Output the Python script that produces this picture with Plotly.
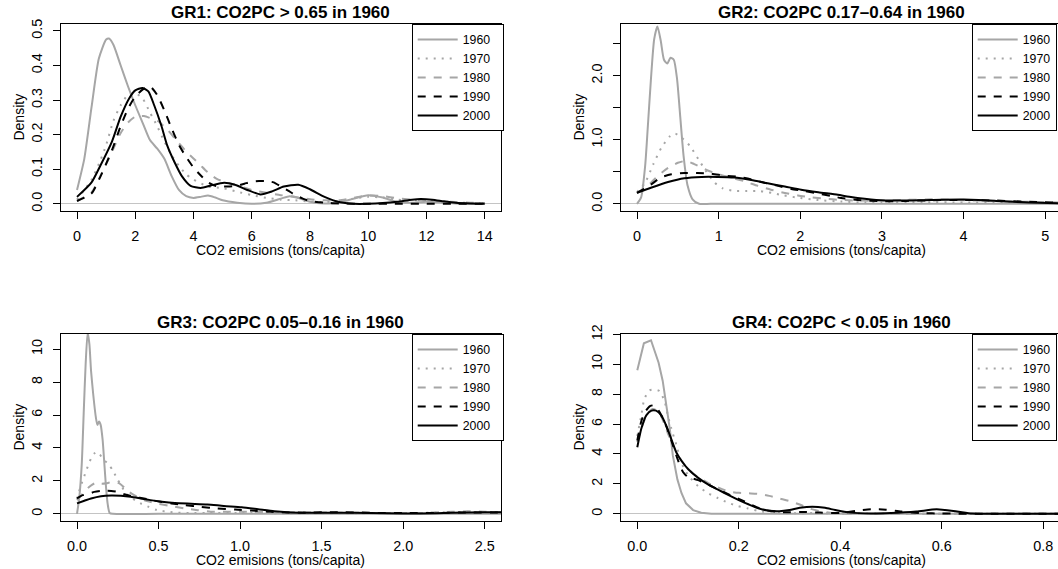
import plotly.graph_objects as go

# ---------------- data ----------------
years = ["1960", "1970", "1980", "1990", "2000"]

# GR1
gr1_x_1960 = [0, 0.25, 0.5, 0.75, 1.0, 1.1, 1.25, 1.5, 1.75, 2.0, 2.25, 2.5, 2.75, 3.0, 3.25, 3.5, 3.75, 4.0, 4.25, 4.5, 4.75, 5.0, 5.5, 6.0, 6.5, 7.0, 7.3, 7.6, 8.0, 8.5, 9.0, 9.5, 10.0, 10.5, 11.0, 11.5, 12.0, 12.5, 13.0, 13.5, 14.0]
gr1_y_1960 = [0.04, 0.13, 0.28, 0.42, 0.475, 0.478, 0.46, 0.40, 0.34, 0.285, 0.235, 0.185, 0.16, 0.13, 0.08, 0.04, 0.022, 0.017, 0.02, 0.024, 0.018, 0.01, 0.003, 0.0, 0.003, 0.015, 0.022, 0.017, 0.006, 0.001, 0.003, 0.015, 0.025, 0.018, 0.005, 0.003, 0.006, 0.004, 0.001, 0.0, 0.0]
gr1_x_1970 = [0, 0.5, 0.8, 1.0, 1.25, 1.5, 1.75, 2.0, 2.25, 2.5, 2.75, 3.0, 3.25, 3.5, 3.75, 4.0, 4.5, 5.0, 5.5, 6.0, 6.5, 7.0, 7.5, 8.0, 8.5, 9.0, 9.5, 10.0, 10.5, 11.0, 11.5, 12.0, 12.5, 13.0, 13.5, 14.0]
gr1_y_1970 = [0.012, 0.07, 0.125, 0.17, 0.24, 0.285, 0.315, 0.32, 0.305, 0.265, 0.225, 0.18, 0.14, 0.11, 0.085, 0.07, 0.05, 0.045, 0.035, 0.025, 0.017, 0.012, 0.01, 0.006, 0.005, 0.008, 0.015, 0.02, 0.018, 0.012, 0.01, 0.01, 0.007, 0.004, 0.002, 0.001]
gr1_x_1980 = [0, 0.5, 0.8, 1.2, 1.5, 1.75, 2.0, 2.3, 2.6, 2.8, 3.1, 3.5, 3.8, 4.2, 4.5, 4.8, 5.2, 5.6, 6.0, 6.5, 7.0, 7.5, 8.0, 8.5, 9.0, 9.5, 10.0, 10.5, 11.0, 11.5, 12.0, 12.5, 13.0, 13.5, 14.0]
gr1_y_1980 = [0.008, 0.033, 0.08, 0.15, 0.205, 0.235, 0.252, 0.254, 0.245, 0.238, 0.215, 0.175, 0.147, 0.115, 0.09, 0.072, 0.06, 0.05, 0.04, 0.032, 0.025, 0.02, 0.013, 0.01, 0.01, 0.017, 0.024, 0.022, 0.016, 0.012, 0.01, 0.008, 0.005, 0.003, 0.002]
gr1_x_1990 = [0, 0.5, 0.8, 1.2, 1.5, 1.75, 2.0, 2.25, 2.5, 2.75, 3.0, 3.25, 3.5, 3.75, 4.0, 4.25, 4.5, 4.75, 5.0, 5.25, 5.5, 5.75, 6.0, 6.25, 6.5, 6.75, 7.0, 7.25, 7.5, 7.75, 8.0, 8.5, 9.0, 10.0, 11.0, 12.0, 13.0, 14.0]
gr1_y_1990 = [0.008, 0.03, 0.078, 0.155, 0.225, 0.275, 0.31, 0.33, 0.34, 0.315, 0.27, 0.218, 0.17, 0.135, 0.105, 0.082, 0.062, 0.052, 0.05, 0.05, 0.052, 0.058, 0.064, 0.066, 0.066, 0.062, 0.05, 0.038, 0.025, 0.015, 0.008, 0.003, 0.001, 0.0, 0.0, 0.0, 0.0, 0.0]
gr1_x_2000 = [0, 0.5, 0.8, 1.2, 1.5, 1.8, 2.0, 2.25, 2.45, 2.65, 2.9, 3.1, 3.35, 3.6, 3.9, 4.25, 4.6, 5.05, 5.4, 5.85, 6.3, 6.7, 7.1, 7.6, 8.0, 8.5, 9.0, 9.5, 10.0, 10.5, 11.0, 11.5, 11.8, 12.2, 12.6, 13.0, 13.5, 14.0]
gr1_y_2000 = [0.02, 0.062, 0.11, 0.18, 0.252, 0.306, 0.328, 0.335, 0.325, 0.285, 0.225, 0.168, 0.12, 0.08, 0.052, 0.046, 0.053, 0.061, 0.056, 0.04, 0.027, 0.036, 0.05, 0.055, 0.042, 0.02, 0.005, 0.0, 0.0, 0.002, 0.006, 0.012, 0.014, 0.012, 0.007, 0.003, 0.001, 0.0]

# GR2
gr2_x_1960 = [0, 0.05, 0.1, 0.13, 0.17, 0.21, 0.25, 0.29, 0.33, 0.37, 0.41, 0.45, 0.49, 0.53, 0.57, 0.62, 0.68, 0.76, 0.9, 1.5, 2.5, 3.5, 4.5, 5.2]
gr2_y_1960 = [0.0, 0.1, 0.6, 1.16, 1.94, 2.57, 2.77, 2.55, 2.25, 2.19, 2.28, 2.25, 1.95, 1.35, 0.75, 0.28, 0.07, 0.0, 0.0, 0.0, 0.0, 0.0, 0.0, 0.0]
gr2_x_1970 = [0, 0.1, 0.2, 0.3, 0.4, 0.46, 0.55, 0.65, 0.75, 0.85, 0.95, 1.05, 1.2, 1.35, 1.5, 1.65, 1.8, 2.0, 2.2, 2.5, 2.8, 3.0, 3.5, 4.0, 4.5, 5.0, 5.2]
gr2_y_1970 = [0.18, 0.33, 0.62, 0.88, 1.05, 1.1, 1.03, 0.9, 0.7, 0.5, 0.33, 0.24, 0.2, 0.2, 0.2, 0.17, 0.13, 0.09, 0.06, 0.035, 0.02, 0.02, 0.025, 0.02, 0.015, 0.01, 0.008]
gr2_x_1980 = [0, 0.13, 0.25, 0.38, 0.5, 0.6, 0.7, 0.83, 1.0, 1.15, 1.32, 1.48, 1.64, 1.81, 1.97, 2.13, 2.3, 2.5, 2.7, 3.0, 3.3, 3.6, 3.9, 4.2, 4.5, 4.8, 5.2]
gr2_y_1980 = [0.17, 0.28, 0.43, 0.56, 0.64, 0.67, 0.62, 0.54, 0.46, 0.41, 0.35, 0.28, 0.22, 0.17, 0.13, 0.1, 0.08, 0.06, 0.05, 0.05, 0.06, 0.07, 0.06, 0.05, 0.04, 0.03, 0.02]
gr2_x_1990 = [0, 0.17, 0.29, 0.42, 0.58, 0.74, 0.91, 1.07, 1.24, 1.4, 1.56, 1.73, 1.89, 2.05, 2.22, 2.38, 2.5, 2.7, 3.0, 3.3, 3.6, 4.0, 4.4, 4.8, 5.2]
gr2_y_1990 = [0.17, 0.3, 0.41, 0.46, 0.48, 0.48, 0.47, 0.44, 0.42, 0.38, 0.33, 0.28, 0.23, 0.2, 0.16, 0.12, 0.09, 0.06, 0.04, 0.045, 0.055, 0.06, 0.05, 0.03, 0.015]
gr2_x_2000 = [0, 0.17, 0.38, 0.58, 0.79, 0.99, 1.19, 1.4, 1.6, 1.81, 2.01, 2.22, 2.46, 2.6, 2.93, 3.2, 3.6, 4.0, 4.4, 4.8, 5.2]
gr2_y_2000 = [0.17, 0.25, 0.34, 0.4, 0.42, 0.42, 0.41, 0.37, 0.32, 0.27, 0.22, 0.18, 0.14, 0.11, 0.06, 0.05, 0.06, 0.065, 0.045, 0.02, 0.005]

# GR3
gr3_x_1960 = [0, 0.014, 0.029, 0.041, 0.053, 0.065, 0.076, 0.086, 0.1, 0.115, 0.125, 0.135, 0.145, 0.157, 0.168, 0.178, 0.188, 0.2, 0.22, 0.5, 1.0, 1.5, 2.0, 2.7]
gr3_y_1960 = [0.0, 1.0, 3.0, 6.1, 9.1, 11.0, 10.3, 8.7, 7.2, 5.9, 5.4, 5.6, 5.4, 4.5, 3.0, 1.6, 0.6, 0.05, 0.0, 0.0, 0.0, 0.0, 0.0, 0.0]
gr3_x_1970 = [0, 0.02, 0.045, 0.065, 0.086, 0.105, 0.12, 0.14, 0.157, 0.188, 0.219, 0.245, 0.27, 0.3, 0.34, 0.39, 0.44, 0.49, 0.56, 0.62, 0.7, 0.8, 1.0, 1.2, 1.5, 1.8, 2.1, 2.3, 2.4, 2.5, 2.7]
gr3_y_1970 = [0.9, 1.6, 2.3, 2.85, 3.35, 3.65, 3.75, 3.6, 3.35, 3.05, 2.65, 2.14, 1.74, 1.23, 0.93, 0.63, 0.42, 0.22, 0.12, 0.07, 0.05, 0.05, 0.05, 0.04, 0.03, 0.03, 0.05, 0.1, 0.12, 0.1, 0.06]
gr3_x_1980 = [0, 0.045, 0.076, 0.106, 0.127, 0.15, 0.18, 0.22, 0.26, 0.29, 0.32, 0.35, 0.41, 0.47, 0.56, 0.66, 0.74, 0.82, 0.9, 1.0, 1.2, 1.5, 1.8, 2.1, 2.3, 2.4, 2.5, 2.7]
gr3_y_1980 = [0.83, 1.33, 1.64, 1.84, 1.9, 1.82, 1.85, 1.95, 1.85, 1.6, 1.33, 1.13, 0.83, 0.67, 0.5, 0.32, 0.22, 0.13, 0.12, 0.12, 0.1, 0.08, 0.05, 0.05, 0.12, 0.15, 0.12, 0.08]
gr3_x_1990 = [0, 0.035, 0.076, 0.106, 0.147, 0.21, 0.25, 0.29, 0.35, 0.41, 0.49, 0.58, 0.66, 0.76, 0.86, 0.97, 1.07, 1.19, 1.29, 1.4, 1.6, 1.8, 2.0, 2.2, 2.4, 2.6, 2.7]
gr3_y_1990 = [0.93, 1.13, 1.23, 1.33, 1.39, 1.39, 1.33, 1.19, 1.03, 0.93, 0.77, 0.63, 0.53, 0.42, 0.32, 0.26, 0.2, 0.12, 0.08, 0.07, 0.1, 0.06, 0.04, 0.05, 0.08, 0.08, 0.07]
gr3_x_2000 = [0, 0.045, 0.086, 0.147, 0.21, 0.27, 0.33, 0.39, 0.45, 0.52, 0.6, 0.7, 0.8, 0.9, 1.01, 1.11, 1.21, 1.29, 1.4, 1.6, 1.8, 2.0, 2.1, 2.3, 2.5, 2.7]
gr3_y_2000 = [0.63, 0.79, 0.93, 1.07, 1.11, 1.09, 1.03, 0.93, 0.83, 0.73, 0.65, 0.61, 0.57, 0.48, 0.4, 0.28, 0.16, 0.1, 0.07, 0.06, 0.05, 0.02, 0.02, 0.06, 0.1, 0.09]

# GR4
gr4_x_1960 = [0, 0.013, 0.027, 0.042, 0.05, 0.057, 0.064, 0.07, 0.079, 0.087, 0.096, 0.11, 0.126, 0.146, 0.2, 0.4, 0.6, 0.84]
gr4_y_1960 = [9.6, 11.4, 11.6, 10.1, 8.9, 7.3, 5.7, 3.9, 2.3, 1.39, 0.7, 0.25, 0.07, 0.0, 0.0, 0.0, 0.0, 0.0]
gr4_x_1970 = [0, 0.008, 0.014, 0.024, 0.034, 0.044, 0.054, 0.06, 0.067, 0.077, 0.087, 0.1, 0.12, 0.139, 0.159, 0.178, 0.198, 0.218, 0.237, 0.264, 0.3, 0.35, 0.4, 0.5, 0.6, 0.84]
gr4_y_1970 = [5.2, 6.6, 7.7, 8.25, 8.3, 8.2, 7.5, 6.6, 5.7, 4.6, 3.4, 2.6, 1.84, 1.39, 1.05, 0.75, 0.52, 0.36, 0.2, 0.07, 0.03, 0.05, 0.03, 0.01, 0.0, 0.0]
gr4_x_1980 = [0, 0.01, 0.02, 0.03, 0.04, 0.05, 0.06, 0.07, 0.08, 0.1, 0.12, 0.14, 0.16, 0.18, 0.2, 0.22, 0.24, 0.26, 0.28, 0.3, 0.32, 0.34, 0.36, 0.38, 0.42, 0.5, 0.6, 0.7, 0.84]
gr4_y_1980 = [4.8, 5.9, 6.7, 7.0, 6.9, 6.3, 5.4, 4.6, 3.9, 3.0, 2.45, 2.05, 1.75, 1.5, 1.4, 1.37, 1.33, 1.2, 1.02, 0.85, 0.62, 0.35, 0.17, 0.07, 0.01, 0.0, 0.0, 0.0, 0.0]
gr4_x_1990 = [0, 0.008, 0.015, 0.025, 0.033, 0.042, 0.05, 0.06, 0.07, 0.08, 0.09, 0.1, 0.11, 0.12, 0.14, 0.16, 0.18, 0.2, 0.22, 0.24, 0.26, 0.28, 0.3, 0.33, 0.36, 0.4, 0.43, 0.46, 0.49, 0.52, 0.56, 0.6, 0.7, 0.84]
gr4_y_1990 = [4.9, 6.2, 6.8, 7.2, 7.25, 6.9, 6.4, 5.6, 4.6, 3.6, 2.8, 2.45, 2.35, 2.25, 1.95, 1.62, 1.3, 1.0, 0.68, 0.38, 0.2, 0.12, 0.1, 0.12, 0.08, 0.05, 0.2, 0.3, 0.28, 0.15, 0.05, 0.02, 0.0, 0.0]
gr4_x_2000 = [0, 0.008, 0.018, 0.028, 0.037, 0.047, 0.057, 0.067, 0.077, 0.087, 0.1, 0.12, 0.14, 0.16, 0.18, 0.2, 0.22, 0.24, 0.26, 0.28, 0.3, 0.32, 0.345, 0.37, 0.39, 0.42, 0.46, 0.5, 0.55, 0.59, 0.63, 0.66, 0.7, 0.84]
gr4_y_2000 = [4.45, 5.7, 6.6, 6.9, 6.9, 6.6, 5.9, 5.0, 4.1, 3.55, 3.0, 2.4, 1.95, 1.6, 1.25, 0.92, 0.62, 0.35, 0.2, 0.17, 0.25, 0.4, 0.48, 0.4, 0.25, 0.08, 0.02, 0.05, 0.15, 0.3, 0.15, 0.02, 0.0, 0.0]

titles = ["GR1: CO2PC > 0.65 in 1960", "GR2: CO2PC 0.17\u20130.64 in 1960",
          "GR3: CO2PC 0.05\u20130.16 in 1960", "GR4: CO2PC < 0.05 in 1960"]
x_title = "CO2 emisions (tons/capita)"
y_title = "Density"

gr1_xticks = [0, 2, 4, 6, 8, 10, 12, 14]
gr1_xtext = ["0", "2", "4", "6", "8", "10", "12", "14"]
gr1_yticks = [0, 0.1, 0.2, 0.3, 0.4, 0.5]
gr1_ytext = ["0.0", "0.1", "0.2", "0.3", "0.4", "0.5"]
gr2_xticks = [0, 1, 2, 3, 4, 5]
gr2_xtext = ["0", "1", "2", "3", "4", "5"]
gr2_yticks = [0, 0.5, 1.0, 1.5, 2.0, 2.5]
gr2_ytext = ["0.0", "", "1.0", "", "2.0", ""]
gr3_xticks = [0, 0.5, 1.0, 1.5, 2.0, 2.5]
gr3_xtext = ["0.0", "0.5", "1.0", "1.5", "2.0", "2.5"]
gr3_yticks = [0, 2, 4, 6, 8, 10]
gr3_ytext = ["0", "2", "4", "6", "8", "10"]
gr4_xticks = [0, 0.2, 0.4, 0.6, 0.8]
gr4_xtext = ["0.0", "0.2", "0.4", "0.6", "0.8"]
gr4_yticks = [0, 2, 4, 6, 8, 10, 12]
gr4_ytext = ["0", "2", "4", "6", "8", "10", "12"]

# ---------------- styling / layout ----------------
W, H = 1058, 569
FONT = "Liberation Sans, Arial, Helvetica, sans-serif"
GRAY = "#a6a6a6"
line_colors = [GRAY, GRAY, GRAY, "#000000", "#000000"]
line_dashes = ["solid", "2px,6px", "8px,8px", "8px,8px", "solid"]

# pixel geometry of the four frames (left, right, top, bottom)
frames = [(60.7, 501.0, 24.0, 210.7), (620.7, 1058.0, 24.0, 210.7),
          (60.7, 501.0, 334.0, 520.7), (620.7, 1058.0, 334.0, 520.7)]
frame_right_true = [501.0, 1061.6, 501.0, 1061.6]
xranges = [[-0.56, 14.56], [-0.2, 5.156], [-0.1, 2.6], [-0.0327, 0.829]]
yranges = [[-0.02, 0.52], [-0.108, 2.808], [-0.42, 10.92], [-0.46, 12.02]]

panels = [
    ([gr1_x_1960, gr1_x_1970, gr1_x_1980, gr1_x_1990, gr1_x_2000],
     [gr1_y_1960, gr1_y_1970, gr1_y_1980, gr1_y_1990, gr1_y_2000],
     gr1_xticks, gr1_xtext, gr1_yticks, gr1_ytext),
    ([gr2_x_1960, gr2_x_1970, gr2_x_1980, gr2_x_1990, gr2_x_2000],
     [gr2_y_1960, gr2_y_1970, gr2_y_1980, gr2_y_1990, gr2_y_2000],
     gr2_xticks, gr2_xtext, gr2_yticks, gr2_ytext),
    ([gr3_x_1960, gr3_x_1970, gr3_x_1980, gr3_x_1990, gr3_x_2000],
     [gr3_y_1960, gr3_y_1970, gr3_y_1980, gr3_y_1990, gr3_y_2000],
     gr3_xticks, gr3_xtext, gr3_yticks, gr3_ytext),
    ([gr4_x_1960, gr4_x_1970, gr4_x_1980, gr4_x_1990, gr4_x_2000],
     [gr4_y_1960, gr4_y_1970, gr4_y_1980, gr4_y_1990, gr4_y_2000],
     gr4_xticks, gr4_xtext, gr4_yticks, gr4_ytext),
]

fig = go.Figure()
layout = dict(width=W, height=H, margin=dict(l=0, r=0, t=0, b=0, autoexpand=False),
              template="none",
              paper_bgcolor="white", plot_bgcolor="white",
              font=dict(family=FONT, size=14, color="black"),
              hovermode=False, annotations=[])

for i, (xs, ys, xt, xtt, yt, ytt) in enumerate(panels):
    n = "" if i == 0 else str(i + 1)
    leg = "legend" if i == 0 else "legend" + str(i + 1)
    right_side = i in (1, 3)
    for k, yr in enumerate(years):
        shape = "linear" if (i == 3 and k == 0) else "spline"
        fig.add_trace(go.Scatter(
            x=xs[k], y=ys[k], mode="lines",
            name=yr if right_side else yr + "\u00a0\u00a0",
            line=dict(color=line_colors[k], width=2, dash=line_dashes[k],
                      shape=shape, smoothing=0.6),
            xaxis="x" + n, yaxis="y" + n, legend=leg, showlegend=True))
    l, r, t, b = frames[i]
    layout["xaxis" + n] = dict(
        domain=[l / W, r / W], range=xranges[i], anchor="y" + n,
        tickvals=xt, ticktext=xtt, ticks="outside", ticklen=7, tickwidth=1,
        tickcolor="black", showline=True, linecolor="black", linewidth=1,
        mirror=True, showgrid=False, zeroline=False, automargin=False,
        tickfont=dict(family=FONT, size=14.4, color="black"),
        ticklabelstandoff=5, fixedrange=True)
    layout["yaxis" + n] = dict(
        domain=[1 - b / H, 1 - t / H], range=yranges[i], anchor="x" + n,
        tickvals=yt, ticktext=ytt, ticks="outside", ticklen=7, tickwidth=1,
        tickcolor="black", showline=True, linecolor="black", linewidth=1,
        mirror=(not right_side), showgrid=False, automargin=False,
        zeroline=True, zerolinecolor="#c4c4c4", zerolinewidth=1,
        tickangle=-90, tickfont=dict(family=FONT, size=14.4, color="black"),
        ticklabelstandoff=5, fixedrange=True)
    layout[leg] = dict(
        x=(l + 351.0) / W, y=1 - t / H, xanchor="left", yanchor="top",
        bgcolor="white", bordercolor="black", borderwidth=1,
        itemwidth=40, font=dict(family=FONT, size=12.3, color="black"),
        traceorder="normal", itemclick=False, itemdoubleclick=False)
    cx = (l + frame_right_true[i]) / 2 / W
    layout["annotations"] += [
        dict(text="<b>" + titles[i] + "</b>", x=cx, y=1 - (t - 11.5) / H,
             xref="paper", yref="paper", xanchor="center", yanchor="middle",
             showarrow=False, font=dict(family=FONT, size=17, color="black")),
        dict(text=x_title, x=cx, y=1 - (b + 39.5) / H,
             xref="paper", yref="paper", xanchor="center", yanchor="middle",
             borderpad=0, showarrow=False,
             font=dict(family=FONT, size=14, color="black")),
        dict(text=y_title, x=(l - 41.5) / W, y=1 - (t + b) / 2 / H,
             xref="paper", yref="paper", xanchor="center", yanchor="middle",
             textangle=-90, showarrow=False,
             font=dict(family=FONT, size=14, color="black")),
    ]

fig.update_layout(**layout)
fig.write_html("out.html", config={"displayModeBar": False})
